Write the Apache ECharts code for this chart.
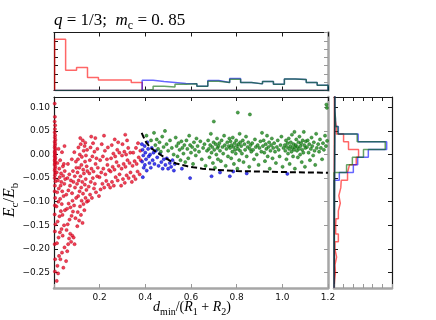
<!DOCTYPE html>
<html>
<head>
<meta charset="utf-8">
<script src="https://cdn.jsdelivr.net/npm/echarts@6/dist/echarts.min.js"></script>
<style>html,body{margin:0;padding:0;background:#fff}#chart{width:436px;height:320px}</style>
</head>
<body>
<div id="chart"></div>
<script>
// scatter points: [d_min/(R1+R2), Ec/Eb]
var redPts = [
  [0.003,0.108],[0.004,0.080],[0.003,0.070],[0.005,0.062],[0.004,0.054],[0.003,0.047],[0.005,0.041],[0.004,0.036],[0.006,0.031],[0.003,0.027],
  [0.005,0.023],[0.004,0.019],[0.003,0.015],[0.006,0.012],[0.004,0.008],[0.003,0.005],[0.005,0.002],[0.004,-0.001],[0.003,-0.004],[0.006,-0.007],
  [0.004,-0.010],[0.003,-0.013],[0.005,-0.016],[0.004,-0.019],[0.003,-0.022],[0.006,-0.026],[0.004,-0.030],[0.003,-0.034],[0.005,-0.039],[0.004,-0.044],
  [0.003,-0.050],[0.006,-0.057],[0.004,-0.066],[0.003,-0.078],[0.005,-0.092],[0.004,-0.108],[0.003,-0.127],[0.006,-0.148],[0.004,-0.163],[0.003,-0.190],
  [0.005,-0.222],[0.004,-0.248],
  [0.012,-0.268],[0.018,-0.252],[0.015,-0.236],[0.022,-0.215],[0.028,-0.222],[0.035,-0.208],[0.041,-0.240],[0.046,-0.197],[0.013,-0.188],[0.020,-0.176],
  [0.026,-0.165],[0.033,-0.158],[0.038,-0.172],[0.044,-0.150],[0.016,-0.142],[0.024,-0.131],[0.030,-0.120],[0.037,-0.128],[0.048,-0.118],[0.011,-0.110],
  [0.019,-0.100],[0.027,-0.094],[0.034,-0.105],[0.042,-0.088],[0.014,-0.080],[0.021,-0.072],[0.029,-0.066],[0.036,-0.078],[0.045,-0.062],[0.017,-0.055],
  [0.025,-0.048],[0.032,-0.058],[0.040,-0.045],[0.049,-0.052],[0.012,-0.038],[0.023,-0.030],[0.031,-0.040],[0.039,-0.025],[0.047,-0.035],[0.015,-0.018],
  [0.027,-0.012],[0.043,-0.020],[0.020,0.012],[0.035,0.005],[0.046,0.018],
  [0.053,-0.226],[0.058,-0.205],[0.062,-0.190],[0.066,-0.178],[0.071,-0.168],[0.075,-0.185],[0.080,-0.172],[0.086,-0.176],[0.090,-0.190],[0.055,-0.160],
  [0.060,-0.148],[0.068,-0.138],[0.077,-0.130],[0.083,-0.121],[0.094,-0.135],[0.057,-0.115],[0.064,-0.104],[0.072,-0.112],[0.081,-0.098],[0.088,-0.108],
  [0.097,-0.092],[0.054,-0.085],[0.063,-0.076],[0.070,-0.066],[0.079,-0.082],[0.085,-0.058],[0.092,-0.070],[0.059,-0.050],[0.067,-0.042],[0.074,-0.055],
  [0.083,-0.035],[0.091,-0.046],[0.098,-0.028],[0.061,-0.020],[0.078,-0.010],[0.089,0.005],[0.096,-0.015],
  [0.102,-0.152],[0.110,-0.140],[0.118,-0.128],[0.125,-0.145],[0.133,-0.118],[0.104,-0.122],[0.114,-0.110],[0.121,-0.098],[0.129,-0.105],[0.138,-0.092],
  [0.144,-0.100],[0.106,-0.088],[0.112,-0.078],[0.119,-0.070],[0.127,-0.083],[0.135,-0.064],[0.142,-0.075],[0.101,-0.062],[0.108,-0.055],[0.116,-0.046],
  [0.124,-0.058],[0.131,-0.040],[0.139,-0.052],[0.146,-0.035],[0.103,-0.038],[0.111,-0.028],[0.120,-0.022],[0.128,-0.032],[0.136,-0.015],[0.143,-0.025],
  [0.105,-0.010],[0.113,0.000],[0.122,-0.005],[0.130,0.008],[0.140,-0.002],[0.107,0.015],[0.117,0.022],[0.126,0.030],[0.134,0.018],[0.145,0.010],
  [0.115,0.035],[0.137,0.025],
  [0.150,-0.098],[0.158,-0.085],[0.166,-0.092],[0.175,-0.072],[0.184,-0.080],[0.152,-0.068],[0.161,-0.058],[0.170,-0.050],[0.179,-0.062],[0.189,-0.046],
  [0.155,-0.040],[0.164,-0.030],[0.173,-0.036],[0.182,-0.020],[0.192,-0.028],[0.157,-0.012],[0.168,-0.004],[0.177,0.006],[0.186,-0.008],[0.160,0.015],
  [0.171,0.024],[0.181,0.035],[0.190,0.012],[0.163,0.038],
  [0.197,-0.088],[0.204,-0.074],[0.212,-0.062],[0.220,-0.070],[0.229,-0.056],[0.238,-0.064],[0.199,-0.048],[0.207,-0.038],[0.216,-0.030],[0.225,-0.042],
  [0.234,-0.022],[0.241,-0.033],[0.202,-0.012],[0.214,-0.004],[0.223,0.008],[0.232,-0.010],[0.209,0.022],[0.219,0.040],[0.236,0.015],
  [0.246,-0.070],[0.254,-0.058],[0.262,-0.066],[0.270,-0.048],[0.279,-0.055],[0.287,-0.042],[0.248,-0.036],[0.257,-0.026],[0.265,-0.032],[0.274,-0.016],
  [0.283,-0.024],[0.250,-0.008],[0.260,0.002],[0.268,-0.004],[0.277,0.010],[0.286,0.004],[0.253,0.020],[0.266,0.032],[0.281,0.026],
  [0.294,-0.066],[0.302,-0.052],[0.310,-0.060],[0.318,-0.044],[0.327,-0.050],[0.335,-0.038],[0.296,-0.030],[0.305,-0.020],[0.313,-0.026],[0.322,-0.012],
  [0.331,-0.018],[0.298,-0.002],[0.308,0.006],[0.316,0.000],[0.325,0.014],[0.334,0.004],[0.300,0.022],[0.320,0.030],[0.312,0.042],
  [0.341,-0.058],[0.349,-0.046],[0.357,-0.052],[0.366,-0.036],[0.375,-0.042],[0.344,-0.024],[0.353,-0.014],[0.362,-0.020],[0.371,-0.006],[0.380,-0.012],
  [0.347,0.004],[0.359,0.014],[0.368,0.024],[0.378,0.008]
];
var bluePts = [
  [0.385,0.022],[0.388,0.010],[0.391,-0.002],[0.386,-0.015],[0.393,-0.028],[0.389,-0.048],[0.397,0.018],[0.400,0.004],[0.403,-0.010],[0.398,-0.022],
  [0.406,-0.034],[0.409,0.026],[0.412,0.012],[0.415,-0.004],[0.418,-0.018],[0.421,0.000],[0.424,-0.028],[0.428,0.014],[0.432,-0.012],[0.436,0.004],
  [0.440,-0.020],[0.446,0.008],[0.452,-0.006],[0.458,-0.024],[0.464,0.002],[0.470,-0.016],[0.476,-0.030],[0.481,-0.010],
  [0.488,-0.022],[0.494,-0.008],[0.500,-0.030],[0.507,-0.018],[0.513,-0.026],[0.519,-0.012],[0.525,-0.034],[0.529,-0.020],
  [0.560,-0.030],[0.596,-0.050],[0.690,-0.046],[0.727,-0.038],[0.770,-0.046],[0.785,-0.036],[0.844,-0.040],[1.022,-0.041]
];
var greenPts = [
  [0.405,0.040],[0.425,0.030],
  [0.438,0.046],[0.444,0.020],[0.450,0.032],[0.456,0.012],[0.462,0.026],[0.468,0.006],[0.474,0.038],[0.480,0.016],
  [0.486,0.050],[0.493,0.022],[0.500,0.008],[0.508,0.030],[0.516,0.014],[0.524,0.000],
  [0.533,0.036],[0.537,0.018],[0.541,-0.004],[0.545,0.024],[0.550,0.010],[0.554,-0.012],[0.558,0.028],[0.562,0.014],[0.567,0.002],[0.571,0.020],[0.575,-0.016],
  [0.580,0.030],[0.584,0.012],[0.588,-0.008],[0.592,0.040],[0.596,0.020],[0.600,0.004],[0.605,0.016],[0.609,-0.020],[0.613,0.026],[0.617,0.010],[0.621,-0.002],[0.624,0.034],
  [0.629,0.018],[0.635,0.006],[0.641,0.028],[0.647,-0.010],[0.653,0.014],[0.659,0.022],[0.664,-0.024],[0.670,0.008],
  [0.700,0.070],[0.805,0.089],[0.858,0.085],[1.193,0.106],[1.195,0.099],
  [0.675,0.030],[0.678,0.012],[0.681,-0.006],[0.684,0.020],[0.687,0.044],[0.690,0.004],[0.693,0.016],[0.696,-0.018],[0.699,0.026],[0.702,0.010],
  [0.705,-0.028],[0.708,0.022],[0.711,0.000],[0.714,0.034],[0.716,0.014],[0.718,-0.010],[0.720,0.018],
  [0.724,0.024],[0.727,0.008],[0.731,-0.014],[0.734,0.030],[0.738,0.016],[0.741,0.002],[0.745,0.040],[0.748,0.020],[0.752,-0.024],[0.755,0.012],
  [0.759,0.026],[0.762,-0.004],[0.765,0.018],[0.768,0.034],
  [0.771,0.014],[0.773,0.028],[0.776,-0.008],[0.778,0.020],[0.781,0.006],[0.783,0.036],[0.786,0.016],[0.788,-0.020],[0.791,0.024],[0.793,0.010],
  [0.796,0.002],[0.798,0.030],[0.801,0.018],[0.803,-0.030],[0.806,0.012],[0.808,0.022],[0.811,-0.012],[0.813,0.044],[0.815,0.008],[0.816,0.026],
  [0.820,0.018],[0.823,0.002],[0.827,0.030],[0.830,-0.016],[0.834,0.022],[0.837,0.010],[0.841,0.038],[0.844,-0.004],[0.848,0.016],[0.851,0.026],
  [0.855,-0.026],[0.858,0.012],[0.861,0.020],[0.864,0.006],
  [0.868,0.024],[0.872,0.010],[0.876,-0.010],[0.880,0.032],[0.884,0.016],[0.888,0.000],[0.892,0.020],[0.896,-0.022],[0.900,0.014],[0.904,0.028],
  [0.908,0.006],[0.911,0.046],
  [0.915,0.018],[0.918,0.030],[0.921,0.004],[0.924,-0.014],[0.927,0.022],[0.930,0.012],[0.933,0.040],[0.936,-0.004],[0.939,0.016],[0.942,0.026],
  [0.945,-0.030],[0.948,0.008],[0.951,0.020],[0.954,0.034],[0.957,-0.008],[0.960,0.014],
  [0.964,0.024],[0.968,0.006],[0.972,-0.018],[0.976,0.016],[0.980,0.030],[0.984,0.010],[0.988,-0.004],[0.992,0.020],[0.996,0.038],[1.001,-0.026],[1.005,0.014],
  [1.011,0.020],[1.013,0.008],[1.016,0.030],[1.018,-0.010],[1.020,0.016],[1.023,0.024],[1.025,0.002],[1.028,0.034],[1.030,0.012],[1.032,-0.020],
  [1.035,0.018],[1.037,0.026],[1.040,0.006],[1.042,0.042],[1.044,0.014],[1.047,-0.004],[1.049,0.022],[1.051,0.010],[1.053,0.048],[1.055,-0.030],[1.056,0.016],
  [1.059,0.020],[1.061,0.032],[1.064,0.008],[1.066,0.016],[1.068,-0.006],[1.071,0.026],[1.073,0.012],[1.075,0.038],[1.078,0.000],[1.080,0.018],
  [1.082,0.024],[1.085,-0.016],[1.087,0.010],[1.089,0.030],[1.092,0.004],[1.094,0.048],[1.096,0.020],[1.099,-0.026],[1.101,0.014],[1.103,0.028],
  [1.108,0.016],[1.111,0.030],[1.115,0.004],[1.118,0.022],[1.121,-0.012],[1.125,0.012],[1.128,0.036],[1.131,0.018],[1.135,-0.002],[1.138,0.026],
  [1.141,0.008],[1.144,-0.022],[1.148,0.044],[1.151,0.014],
  [1.157,0.022],[1.161,0.006],[1.165,0.032],[1.169,0.014],[1.174,-0.010],[1.178,0.024],[1.182,0.010],[1.187,0.040],[1.191,0.018],[1.196,0.029]
];
var dashedCurve = [
  [0.384,0.046],[0.395,0.034],[0.406,0.024],[0.420,0.016],[0.435,0.010],[0.450,0.005],[0.465,0.000],[0.480,-0.005],[0.500,-0.011],[0.515,-0.015],
  [0.535,-0.019],[0.560,-0.022],[0.585,-0.025],[0.610,-0.027],[0.650,-0.030],[0.700,-0.032],[0.800,-0.035],[0.900,-0.036],[1.000,-0.037],
  [1.100,-0.038],[1.200,-0.0385]
];

// top histogram (25 bins along x), heights in tick units
var topBinStart = 0.003, topBinWidth = 0.0479;
var topRed   = [6.18,2.45,2.77,1.57,1.28,1.28,1.28,0.96,0,0,0,0,0,0,0,0,0,0,0,0,0,0,0,0,0];
var topBlue  = [0,0,0,0,0,0,0,0,1.24,1.08,0.96,0.84,0.80,0.52,1.20,0.96,1.45,0.96,0.80,1.08,0.76,1.40,1.33,0.96,0.64];
var topGreen = [0,0,0,0,0,0,0,0,0.12,0.52,0.43,0.76,0.80,0.52,1.12,0.96,1.36,0.96,0.80,1.08,0.76,1.40,1.33,0.96,0.64];

// right histogram (25 bins along y, from the bottom), widths in tick units
var sideBinStart = -0.2826, sideBinWidth = 0.0163;
var sideRed   = [0.06,0.15,0.10,0.27,0.10,0.10,0.45,0.17,0.20,0.45,0.65,0.50,0.70,0.75,1.40,1.60,2.30,2.54,1.50,0.99,0.24,0.10,0.05,0.05,0.05];
var sideBlue  = [0,0,0,0,0,0,0,0,0,0,0,0,0,0,0.55,2.00,2.45,3.55,5.45,2.50,0.45,0.15,0.10,0.10,0.10];
var sideGreen = [0,0,0,0,0,0,0,0,0,0,0,0,0,0,0,1.30,1.90,3.05,5.30,2.40,0.40,0.15,0.10,0.10,0.10];

var yTicks = [-0.25,-0.2,-0.15,-0.1,-0.05,0,0.05,0.1];
var yMin = -0.283, yMax = 0.122;

var chart = echarts.init(document.getElementById('chart'));

// closed step outline, like a matplotlib 'step' histogram
function stepTop(vals) {
  var pts = [[topBinStart, 0]];
  for (var i = 0; i < vals.length; i++) {
    var a = topBinStart + topBinWidth * i;
    pts.push([a, vals[i]], [a + topBinWidth, vals[i]]);
  }
  pts.push([topBinStart + topBinWidth * vals.length, 0], [topBinStart, 0]);
  return pts;
}
function stepSide(vals) {
  var pts = [[0, sideBinStart]];
  for (var i = 0; i < vals.length; i++) {
    var a = sideBinStart + sideBinWidth * i;
    pts.push([vals[i], a], [vals[i], a + sideBinWidth]);
  }
  pts.push([0, sideBinStart + sideBinWidth * vals.length], [0, sideBinStart]);
  return pts;
}

var dark = '#1a1a1a', grey = '#a6a6a6';
function ax(grid, pos, color, width, extra) {
  var o = {
    gridIndex: grid, type: 'value', position: pos,
    axisLine: { show: true, onZero: false, lineStyle: { color: color, width: width } },
    axisTick: { show: true, inside: true, length: 4, lineStyle: { color: color === grey ? '#999' : dark, width: 1 } },
    axisLabel: { show: false },
    splitLine: { show: false }
  };
  for (var k in extra) o[k] = extra[k];
  return o;
}
var lblStyle = { fontFamily: 'DejaVu Sans', fontSize: 9, color: '#111' };
var mainY = { min: yMin, max: yMax,
  axisTick: { show: true, inside: true, length: 4, customValues: yTicks, lineStyle: { color: dark } } };

var xAxes = [
  ax(0, 'bottom', grey, 2.5, { min: 0, max: 1.2, interval: 0.2,
    axisLabel: Object.assign({ show: true, margin: 5, formatter: function (v) { return v === 0 ? '' : v.toFixed(1); } }, lblStyle) }),
  ax(0, 'top', dark, 1.2, { min: 0, max: 1.2, interval: 0.2 }),
  ax(1, 'bottom', dark, 1.2, { min: 0, max: 1.2, interval: 0.2 }),
  ax(1, 'top', dark, 1.2, { min: 0, max: 1.2, interval: 0.2 }),
  ax(2, 'bottom', grey, 2.5, { min: 0, max: 6, interval: 1 }),
  ax(2, 'top', dark, 1.2, { min: 0, max: 6, interval: 1 })
];
var yAxes = [
  ax(0, 'left', dark, 1.2, { min: yMin, max: yMax,
    axisTick: { show: true, inside: true, length: 4, customValues: yTicks, lineStyle: { color: dark } },
    axisLabel: Object.assign({ show: true, margin: 4, customValues: yTicks,
      formatter: function (v) { return (v < 0 ? '\u2212' : '') + Math.abs(v).toFixed(2); } }, lblStyle) }),
  ax(0, 'right', grey, 2.5, { min: yMin, max: yMax,
    axisTick: { show: true, inside: true, length: 4, customValues: yTicks, lineStyle: { color: '#999' } } }),
  ax(1, 'left', dark, 1.2, { min: 0, max: 7, interval: 1 }),
  ax(1, 'right', grey, 2.5, { min: 0, max: 7, interval: 1 }),
  ax(2, 'left', dark, 1.2, mainY),
  ax(2, 'right', dark, 1.2, mainY)
];

function pts(data, fill, edge) {
  return { type: 'scatter', xAxisIndex: 0, yAxisIndex: 0, data: data, symbolSize: 3.2,
    itemStyle: { color: fill, borderColor: edge, borderWidth: 0.5 }, silent: true };
}
function hist(data, color, xi, yi) {
  return { type: 'line', xAxisIndex: xi, yAxisIndex: yi, data: data, showSymbol: false, symbol: 'none',
    lineStyle: { color: color, width: 1.5 }, silent: true, animation: false };
}

var serif = 'Liberation Serif';
function rich(size) {
  return {
    i: { fontFamily: serif, fontStyle: 'italic', fontSize: size, verticalAlign: 'bottom', padding: [0, 0, 3, 0], fill: '#000' },
    r: { fontFamily: serif, fontSize: size, verticalAlign: 'bottom', padding: [0, 0, 3, 0], fill: '#000' },
    s: { fontFamily: serif, fontSize: Math.round(size * 0.7), verticalAlign: 'bottom', fill: '#000' }
  };
}

chart.setOption({
  animation: false,
  grid: [
    { left: 54, top: 97, width: 274, height: 191 },
    { left: 54, top: 32.5, width: 274, height: 58 },
    { left: 334, top: 97, width: 58, height: 191 }
  ],
  xAxis: xAxes,
  yAxis: yAxes,
  series: [
    pts(redPts, '#f0102a', '#b00018'),
    pts(bluePts, '#1010f0', '#0000a0'),
    pts(greenPts, '#1e8c1e', '#0b5a0b'),
    { type: 'line', xAxisIndex: 0, yAxisIndex: 0, data: dashedCurve, showSymbol: false, symbol: 'none',
      lineStyle: { color: '#000', width: 2, type: [6, 3] }, silent: true },
    hist(stepTop(topRed), 'rgba(255,0,0,0.6)', 2, 2),
    hist(stepTop(topBlue), 'rgba(0,0,255,0.6)', 2, 2),
    hist(stepTop(topGreen), 'rgba(0,100,0,0.6)', 2, 2),
    hist(stepSide(sideRed), 'rgba(255,0,0,0.6)', 4, 4),
    hist(stepSide(sideBlue), 'rgba(0,0,255,0.6)', 4, 4),
    hist(stepSide(sideGreen), 'rgba(0,100,0,0.6)', 4, 4)
  ],
  graphic: [
    { type: 'text', left: 54, top: 12, style: { text: '{i|q}{r| = 1/3;  }{i|m}{s|c}{r| = 0. 85}', rich: rich(17) } },
    { type: 'text', x: 192, y: 309, style: { text: '{i|d}{s|min}{r|/(}{i|R}{s|1}{r| + }{i|R}{s|2}{r|)}', rich: rich(14), align: 'center', verticalAlign: 'middle' } },
    { type: 'text', x: 11, y: 200, rotation: Math.PI / 2, style: { text: '{i|E}{s|c}{r|/}{i|E}{s|b}', rich: rich(16), align: 'center', verticalAlign: 'middle' } }
  ]
});
</script>
</body>
</html>
